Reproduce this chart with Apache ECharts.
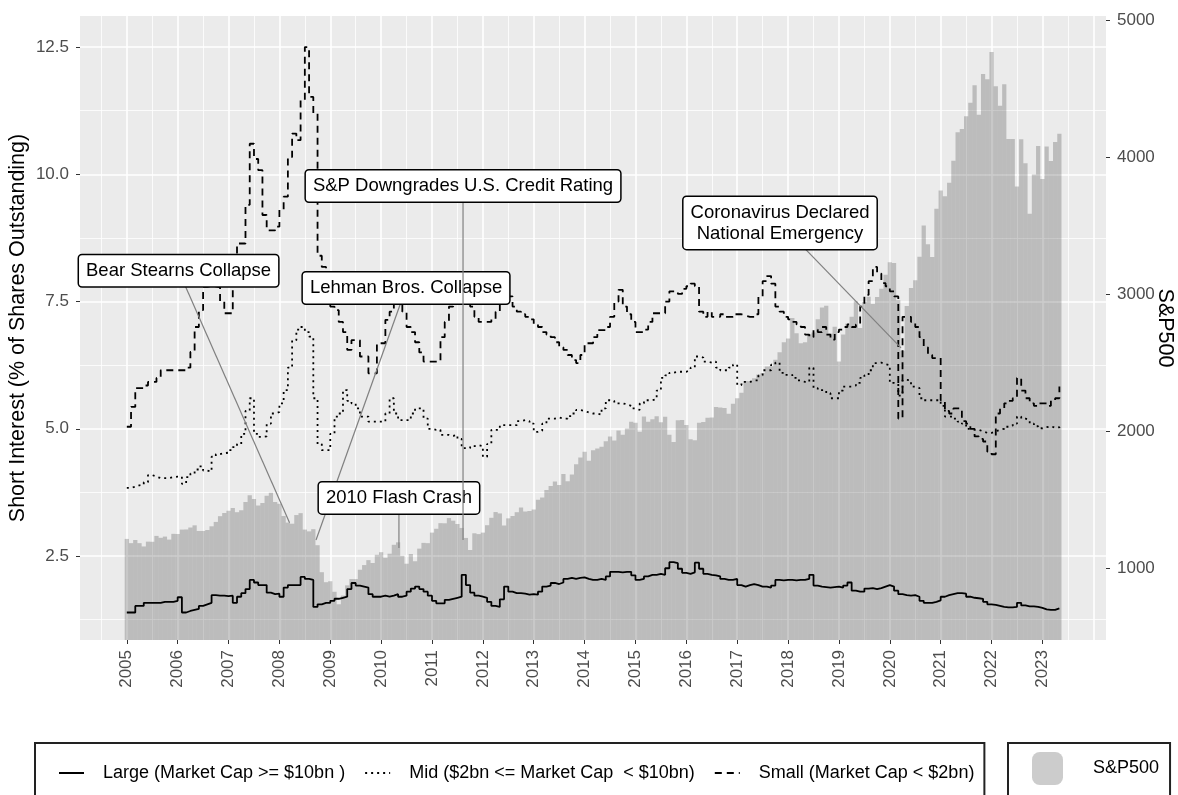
<!DOCTYPE html>
<html>
<head>
<meta charset="utf-8">
<script src="https://cdn.jsdelivr.net/npm/echarts@6/dist/echarts.min.js"></script>
<style>
html,body{margin:0;padding:0;background:#fff;}
#chart{width:1178px;height:795px;}
</style>
</head>
<body>
<div id="chart"></div>
<script>
// Monthly observations, January 2005 .. May 2023
const startYear = 2005;

// Short interest, % of shares outstanding
const largeCap = [
  1.39,1.39,1.52,1.52,1.58,1.58,1.58,1.58,1.60,1.60,1.60,1.62,
  1.69,1.39,1.42,1.44,1.46,1.52,1.55,1.58,1.73,1.72,1.72,1.71,
  1.72,1.58,1.70,1.77,1.85,2.03,1.98,1.93,1.93,1.78,1.75,1.76,
  1.70,1.88,1.93,1.93,1.93,2.09,2.05,2.03,1.50,1.55,1.58,1.58,
  1.62,1.66,1.68,1.70,1.85,1.97,1.92,1.90,1.88,1.75,1.70,1.70,
  1.72,1.70,1.72,1.75,1.70,1.72,1.80,1.86,1.90,1.85,1.80,1.72,
  1.62,1.57,1.57,1.64,1.66,1.68,1.70,2.13,1.93,1.78,1.72,1.70,
  1.68,1.60,1.52,1.50,1.65,1.90,1.80,1.77,1.77,1.76,1.74,1.75,
  1.74,1.80,1.90,1.92,1.97,1.95,1.98,2.05,2.07,2.05,2.07,2.08,
  2.05,2.03,2.03,2.05,2.03,2.10,2.19,2.19,2.18,2.19,2.19,2.12,
  2.03,2.05,2.10,2.13,2.13,2.15,2.13,2.26,2.38,2.36,2.25,2.17,
  2.15,2.18,2.37,2.25,2.15,2.13,2.12,2.10,2.05,2.03,2.03,2.05,
  1.93,1.90,1.93,1.95,1.93,1.90,1.90,1.88,1.92,2.03,2.02,2.03,
  2.03,2.02,2.03,2.03,2.05,2.13,1.92,1.90,1.89,1.88,1.89,1.90,
  1.88,1.92,1.98,1.82,1.80,1.80,1.86,1.87,1.85,1.87,1.90,1.93,
  1.90,1.82,1.75,1.73,1.72,1.73,1.70,1.62,1.58,1.58,1.60,1.63,
  1.70,1.73,1.75,1.77,1.77,1.76,1.70,1.68,1.67,1.66,1.60,1.55,
  1.54,1.52,1.50,1.49,1.49,1.50,1.58,1.53,1.51,1.51,1.50,1.48,
  1.45,1.44,1.44,1.47,1.48
];
const midCap = [
  3.84,3.86,3.89,3.90,3.95,4.09,4.06,4.03,4.03,4.03,4.05,4.06,
  4.06,3.92,4.05,4.12,4.20,4.26,4.18,4.16,4.45,4.50,4.52,4.53,
  4.58,4.64,4.70,4.90,5.35,5.60,4.90,4.84,4.85,5.10,5.30,5.33,
  5.50,5.76,6.20,6.74,6.95,7.00,6.90,6.81,5.60,4.70,4.58,4.58,
  4.90,5.24,5.30,5.76,5.55,5.50,5.40,5.24,5.24,5.14,5.14,5.14,
  5.14,5.30,5.60,5.30,5.17,5.17,5.17,5.30,5.40,5.40,5.20,5.00,
  4.98,4.98,4.88,4.88,4.86,4.88,4.80,4.62,4.62,4.66,4.68,4.66,
  4.45,4.70,4.98,4.98,5.07,5.07,5.07,5.07,5.15,5.17,5.15,5.10,
  4.94,4.96,5.10,5.20,5.20,5.22,5.20,5.20,5.25,5.30,5.37,5.35,
  5.32,5.30,5.30,5.28,5.40,5.56,5.55,5.50,5.50,5.48,5.45,5.40,
  5.37,5.50,5.56,5.56,5.58,5.75,6.00,6.05,6.10,6.12,6.12,6.12,
  6.15,6.20,6.42,6.40,6.32,6.30,6.32,6.20,6.15,6.15,6.20,6.26,
  5.86,5.92,5.92,5.95,5.95,6.05,6.15,6.15,6.26,6.30,6.10,6.06,
  6.06,6.00,5.95,5.92,5.92,6.20,5.80,5.76,5.76,5.70,5.60,5.60,
  5.75,5.83,5.83,5.85,5.90,6.00,6.05,6.15,6.29,6.30,6.27,6.25,
  5.90,5.88,5.65,5.96,5.95,5.83,5.80,5.60,5.56,5.56,5.56,5.56,
  5.45,5.24,5.24,5.20,5.14,5.10,5.00,4.98,4.98,4.95,4.92,4.92,
  4.95,4.98,5.00,5.04,5.06,5.10,5.24,5.20,5.17,5.10,5.05,5.01,
  5.03,5.05,5.02,5.03,5.01
];
const smallCap = [
  5.04,5.43,5.80,5.80,5.85,5.92,5.92,6.00,6.15,6.15,6.15,6.15,
  6.15,6.15,6.20,6.51,7.00,7.33,7.79,7.80,7.80,7.78,7.50,7.27,
  7.27,7.90,8.64,8.64,9.40,10.60,10.30,10.08,9.20,8.90,8.90,8.97,
  9.30,9.56,10.34,10.80,10.67,11.46,12.50,11.52,11.20,8.40,8.18,7.47,
  7.40,7.33,7.10,6.90,6.55,6.74,6.74,6.42,6.42,6.09,6.09,6.68,
  6.68,7.14,7.30,7.50,7.55,7.30,7.00,6.90,6.70,6.50,6.32,6.32,
  6.32,6.32,6.80,7.10,7.40,7.70,7.60,7.50,7.60,7.40,7.20,7.10,
  7.10,7.10,7.15,7.30,7.70,7.75,7.60,7.40,7.30,7.25,7.20,7.15,
  7.05,7.00,6.90,6.85,6.80,6.70,6.60,6.55,6.45,6.35,6.29,6.45,
  6.68,6.68,6.80,6.94,6.94,7.00,7.20,7.50,7.73,7.40,7.25,7.10,
  6.90,6.90,6.95,7.10,7.27,7.27,7.27,7.50,7.70,7.70,7.65,7.75,
  7.80,7.85,7.80,7.30,7.20,7.30,7.20,7.20,7.25,7.20,7.20,7.25,
  7.25,7.22,7.20,7.20,7.25,7.60,7.90,8.00,7.85,7.40,7.30,7.20,
  7.15,7.10,7.05,7.00,6.85,6.80,6.95,6.90,7.00,6.85,6.75,6.90,
  6.95,7.00,7.05,7.00,7.05,7.40,7.63,7.90,8.18,8.05,7.86,7.80,
  7.70,7.60,5.20,7.20,7.20,7.10,7.00,6.80,6.60,6.45,6.39,6.39,
  5.56,5.35,5.30,5.40,5.40,5.15,5.10,5.00,4.85,4.80,4.75,4.55,
  4.50,5.30,5.40,5.50,5.55,5.60,6.00,5.75,5.60,5.50,5.45,5.50,
  5.50,5.45,5.55,5.60,5.83
];
// S&P 500 index level
const sp500 = [
  1212,1181,1204,1181,1157,1192,1191,1234,1220,1229,1207,1249,
  1248,1280,1281,1295,1311,1270,1270,1277,1304,1336,1378,1401,
  1418,1438,1407,1421,1482,1531,1503,1455,1474,1527,1549,1481,
  1468,1379,1331,1323,1386,1400,1280,1267,1283,1166,969,896,
  903,826,735,798,873,919,919,987,1021,1057,1036,1096,
  1115,1074,1104,1169,1187,1089,1031,1102,1049,1141,1183,1181,
  1258,1286,1327,1326,1364,1345,1321,1292,1219,1131,1253,1247,
  1258,1312,1366,1408,1398,1310,1362,1379,1407,1441,1412,1416,
  1426,1498,1515,1569,1598,1631,1606,1686,1633,1682,1757,1806,
  1848,1783,1859,1872,1884,1924,1960,1931,2003,1972,2018,2068,
  2059,1995,2105,2068,2086,2107,2063,2104,1972,1920,2079,2080,
  2044,1940,1932,2060,2065,2097,2099,2174,2171,2168,2126,2199,
  2239,2279,2364,2363,2384,2412,2423,2470,2472,2519,2575,2648,
  2674,2824,2714,2641,2648,2705,2718,2816,2902,2914,2711,2760,
  2507,2704,2784,2834,2946,2752,2942,2980,2926,2977,3038,3141,
  3231,3226,2954,2585,2912,3044,3100,3271,3500,3363,3270,3622,
  3756,3714,3811,3973,4181,4204,4298,4395,4523,4308,4605,4567,
  4766,4516,4374,4530,4132,4132,3785,4130,3955,3586,3872,4080,
  3840,4077,3970,4109,4169
];

const yearTicks = [2005,2006,2007,2008,2009,2010,2011,2012,2013,2014,2015,2016,2017,2018,2019,2020,2021,2022,2023];
const halfYearLines = [2004.5,2005.5,2006.5,2007.5,2008.5,2009.5,2010.5,2011.5,2012.5,2013.5,2014.5,2015.5,2016.5,2017.5,2018.5,2019.5,2020.5,2021.5,2022.5,2023.5];
const extraYearLines = [2024];
const leftTicks = [2.5, 5, 7.5, 10, 12.5];
const leftMinorLines = [1.25, 3.75, 6.25, 8.75, 11.25];
const rightTicks = [1000, 2000, 3000, 4000, 5000];

// Events: date (decimal year) and S&P 500 level the label points at
const eventNames = ['Bear Stearns Collapse', 'Lehman Bros. Collapse', '2010 Flash Crash', 'S&P Downgrades U.S. Credit Rating', 'Coronavirus Declared\nNational Emergency'];
const eventDates = [2008.20, 2008.72, 2010.35, 2011.61, 2020.22];
const eventLevels = [1330, 1204, 1146, 1204, 2606];

// label placement (pixel offsets of the label centre from its point) - layout only
const labelOffsets = [[-111, -252], [90, -252], [0, -50], [0, -354], [-121, -125]];

const dates = largeCap.map((_, i) => startYear + i / 12);
const pair = arr => arr.map((v, i) => [dates[i], v]);

const FONT = 'Liberation Sans, Arial, sans-serif';
const names = {
  large: 'Large (Market Cap >= $10bn )',
  mid: 'Mid ($2bn <= Market Cap  < $10bn)',
  small: 'Small (Market Cap < $2bn)',
  sp: 'S&P500'
};

const xMin = 2004.08, xMax = 2024.25;
const yMin = 0.85, yMax = 13.11;
const rMin = 474, rMax = 5029;

const chart = echarts.init(document.getElementById('chart'), null, {renderer: 'canvas'});
const gridLine = {show: true, lineStyle: {color: '#ffffff', width: 1.6}};
const minorLine = {show: true, lineStyle: {color: '#ffffff', width: 0.8}};
const hiddenParts = {axisLine: {show: false}, axisLabel: {show: false}};

chart.setOption({
  animation: false,
  textStyle: {fontFamily: FONT},
  grid: {left: 80, right: 72, top: 16, bottom: 155, show: true, backgroundColor: '#EBEBEB', borderWidth: 0, containLabel: false, outerBoundsMode: 'none'},
  xAxis: [
    {
      type: 'value', min: xMin, max: xMax, position: 'bottom',
      axisLine: {show: false, onZero: false},
      axisTick: {show: true, length: 4, lineStyle: {color: '#333333', width: 1}, customValues: yearTicks},
      axisLabel: {show: true, rotate: 90, margin: 10, color: '#4D4D4D', fontSize: 17, fontFamily: FONT, customValues: yearTicks, formatter: v => String(Math.round(v))},
      splitLine: gridLine
    },
    Object.assign({type: 'value', min: xMin, max: xMax, position: 'bottom',
      axisTick: {show: false, customValues: halfYearLines}, splitLine: minorLine}, hiddenParts, {axisLine: {show: false, onZero: false}}),
    Object.assign({type: 'value', min: xMin, max: xMax, position: 'bottom',
      axisTick: {show: false, customValues: extraYearLines}, splitLine: gridLine}, hiddenParts, {axisLine: {show: false, onZero: false}})
  ],
  yAxis: [
    {
      type: 'value', min: yMin, max: yMax, position: 'left',
      name: 'Short Interest (% of Shares Outstanding)', nameLocation: 'middle', nameGap: 51, nameMoveOverlap: false,
      nameTextStyle: {color: '#000000', fontSize: 21.5, fontFamily: FONT},
      axisLine: {show: false, onZero: false},
      axisTick: {show: true, length: 4, lineStyle: {color: '#333333', width: 1}, customValues: leftTicks},
      axisLabel: {show: true, margin: 11, color: '#4D4D4D', fontSize: 17, fontFamily: FONT, customValues: leftTicks, formatter: v => v.toFixed(1)},
      splitLine: gridLine
    },
    {
      type: 'value', min: rMin, max: rMax, position: 'right',
      name: 'S&P500', nameLocation: 'middle', nameGap: 48, nameRotate: -90, nameMoveOverlap: false,
      nameTextStyle: {color: '#000000', fontSize: 21.5, fontFamily: FONT},
      axisLine: {show: false, onZero: false},
      axisTick: {show: true, length: 4, lineStyle: {color: '#333333', width: 1}, customValues: rightTicks},
      axisLabel: {show: true, margin: 11, color: '#4D4D4D', fontSize: 17, fontFamily: FONT, customValues: rightTicks, formatter: v => String(Math.round(v))},
      splitLine: {show: false}
    },
    Object.assign({type: 'value', min: yMin, max: yMax, position: 'left',
      axisTick: {show: false, customValues: leftMinorLines}, splitLine: minorLine}, hiddenParts, {axisLine: {show: false, onZero: false}})
  ],
  legend: [
    {
      data: [names.large, names.mid, names.small],
      left: 35, top: 743, orient: 'horizontal',
      itemWidth: 25, itemHeight: 14, itemGap: 19,
      padding: [20, 10, 40, 23],
      borderColor: '#222222', borderWidth: 2,
      itemStyle: {opacity: 0},
      textStyle: {color: '#000000', fontSize: 18, fontFamily: FONT, lineHeight: 20, padding: [0, 0, 0, 14]}
    },
    {
      data: [names.sp],
      left: 1008, top: 743, orient: 'horizontal',
      itemWidth: 31, itemHeight: 33,
      padding: [9, 11, 40, 24],
      borderColor: '#222222', borderWidth: 2,
      textStyle: {color: '#000000', fontSize: 18, fontFamily: FONT, lineHeight: 26, padding: [6, 0, 0, 25]}
    }
  ],
  series: [
    {
      name: names.sp, type: 'bar', xAxisIndex: 0, yAxisIndex: 1,
      data: pair(sp500), barCategoryGap: '0%', barGap: '0%',
      itemStyle: {color: 'rgba(0,0,0,0.2)'},
      z: 2
    },
    {
      name: names.large, type: 'line', step: 'end', xAxisIndex: 0, yAxisIndex: 0,
      data: pair(largeCap), symbol: 'none', showSymbol: false,
      lineStyle: {color: '#000000', width: 1.8, type: 'solid'}, itemStyle: {color: '#000000'}, z: 3
    },
    {
      name: names.mid, type: 'line', step: 'end', xAxisIndex: 0, yAxisIndex: 0,
      data: pair(midCap), symbol: 'none', showSymbol: false,
      lineStyle: {color: '#000000', width: 1.8, type: [2, 4]}, itemStyle: {color: '#000000'}, z: 3
    },
    {
      name: names.small, type: 'line', step: 'end', xAxisIndex: 0, yAxisIndex: 0,
      data: pair(smallCap), symbol: 'none', showSymbol: false,
      lineStyle: {color: '#000000', width: 1.8, type: [7, 5]}, itemStyle: {color: '#000000'}, z: 3
    },
    {
      name: 'events', type: 'custom', xAxisIndex: 0, yAxisIndex: 1, silent: true, z: 10,
      data: eventDates.map((d, i) => [d, eventLevels[i]]),
      encode: {x: 0, y: 1},
      renderItem: function (params, api) {
        const i = params.dataIndex;
        const p = api.coord([api.value(0), api.value(1)]);
        const cx = p[0] + labelOffsets[i][0];
        const cy = p[1] + labelOffsets[i][1];
        return {
          type: 'group',
          children: [
            {type: 'line', shape: {x1: p[0], y1: p[1], x2: cx, y2: cy}, style: {stroke: '#808080', lineWidth: 1.2}},
            {type: 'text', x: cx, y: cy, style: {
              text: eventNames[i], fill: '#000000', fontSize: 18.5, fontFamily: FONT,
              align: 'center', verticalAlign: 'middle', lineHeight: 21,
              backgroundColor: '#ffffff', borderColor: '#000000', borderWidth: 1.5, borderRadius: 3,
              padding: [5, 7, 5, 7]
            }}
          ]
        };
      }
    }
  ]
});
</script>
</body>
</html>
